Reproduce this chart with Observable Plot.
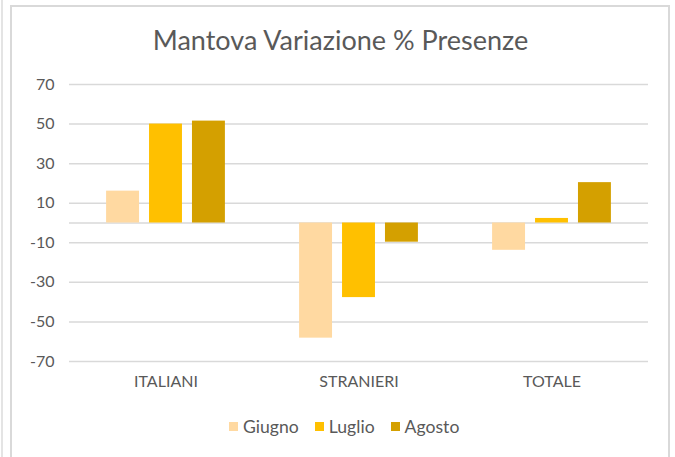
<!DOCTYPE html>
<html><head><meta charset="utf-8">
<script src="https://cdn.jsdelivr.net/npm/d3@7"></script>
<script src="https://cdn.jsdelivr.net/npm/@observablehq/plot@0.6"></script>
<style>
html,body{margin:0;padding:0;background:#fff;}
body{width:675px;height:457px;overflow:hidden;position:relative;font-family:Lato,"Noto Sans",sans-serif;}
#edge{position:absolute;left:1px;top:0;width:2px;height:457px;background:#e4e4e4;}
#frame{position:absolute;left:10px;top:5px;width:656px;height:470px;border:2px solid #d9d9d9;border-bottom:none;}
#chart{position:absolute;left:0;top:0;}
#title{position:absolute;left:11px;width:659px;top:24px;text-align:center;font-size:27px;color:#595959;line-height:1.2;white-space:nowrap;}
#legend{position:absolute;top:416px;left:229px;display:flex;align-items:center;font-size:17.6px;color:#595959;line-height:1.2;white-space:nowrap;}
#legend .item{display:flex;align-items:center;margin-right:16px;}
#legend .sw{width:9px;height:9px;margin-right:5px;display:inline-block;}
</style>
</head><body>
<div id="edge"></div>
<div id="frame"></div>
<div id="chart"></div>
<div id="title"></div>
<div id="legend"></div>
<script>
const title = "Mantova Variazione % Presenze";
const categories = ["ITALIANI", "STRANIERI", "TOTALE"];
const series = ["Giugno", "Luglio", "Agosto"];
const giugno = [16.1, -58.2, -13.8];
const luglio = [50.0, -37.7, 2.3];
const agosto = [51.5, -9.7, 20.4];
const yTicks = [70, 50, 30, 10, -10, -30, -50, -70];
const colors = ["#ffd9a1", "#ffc000", "#d4a000"];

const valuesBySeries = [giugno, luglio, agosto];
const data = [];
categories.forEach((c, i) => {
  series.forEach((s, j) => data.push({cat: c, series: s, value: valuesBySeries[j][i]}));
});

const chart = Plot.plot({
  width: 675,
  height: 400,
  marginTop: 84,
  marginBottom: 39,
  marginLeft: 68,
  marginRight: 27,
  style: {fontFamily: "Lato, 'Noto Sans', sans-serif", fontSize: "16px", color: "#595959", background: "transparent"},
  fx: {domain: categories, padding: 0, label: null},
  x: {domain: series, paddingInner: 0.233, paddingOuter: 0.864, round: false, axis: null},
  y: {domain: [-70, 70], label: null},
  color: {domain: series, range: colors},
  marks: [
    Plot.ruleY(yTicks, {stroke: "#d9d9d9", strokeWidth: 1.5}),
    Plot.ruleY([0], {stroke: "#d9d9d9", strokeWidth: 1.5}),
    Plot.barY(data, {fx: "cat", x: "series", y: "value", fill: "series"}),
    Plot.axisY(yTicks, {tickSize: 0, tickPadding: 15, fontSize: 16, label: null, tickFormat: d => String(d)}),
    Plot.axisFx({anchor: "bottom", tickSize: 0, tickPadding: 14, fontSize: 16, label: null})
  ]
});
document.getElementById("chart").appendChild(chart);
document.getElementById("title").textContent = title;

const legend = document.getElementById("legend");
series.forEach((s, i) => {
  const item = document.createElement("span");
  item.className = "item";
  const sw = document.createElement("span");
  sw.className = "sw";
  sw.style.background = colors[i];
  const t = document.createElement("span");
  t.textContent = s;
  item.appendChild(sw);
  item.appendChild(t);
  legend.appendChild(item);
});
</script>
</body></html>
